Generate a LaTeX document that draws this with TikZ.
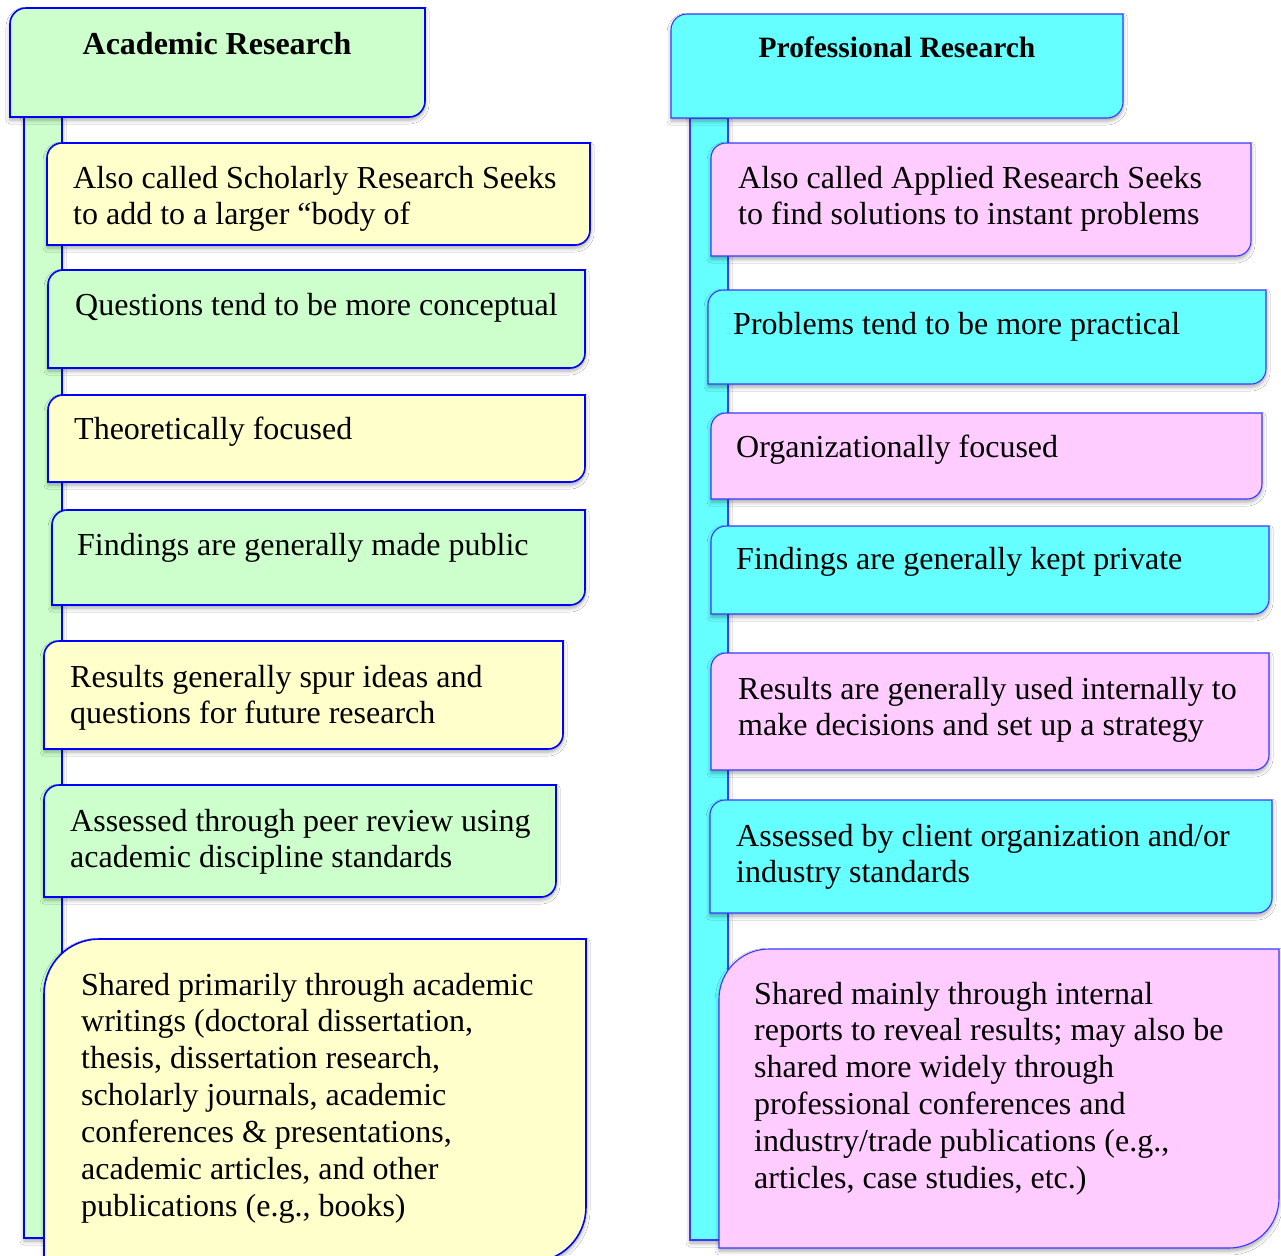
\documentclass[tikz,border=0pt]{standalone}
\usepackage{fontspec}
\setmainfont{Liberation Serif}
\usetikzlibrary{shadows.blur}

\definecolor{mint}{HTML}{CCFFCC}
\definecolor{cream}{HTML}{FFFFCC}
\definecolor{aqua}{HTML}{66FFFF}
\definecolor{rose}{HTML}{FFCCFF}
\definecolor{edgeL}{HTML}{0000FF}
\definecolor{edgeR}{HTML}{3A3AFF}

\newcommand\bodyfont{\fontsize{32}{36.9}\selectfont}
\newcommand\headfontL{\fontsize{32}{36.9}\selectfont\bfseries}
\newcommand\headfontR{\fontsize{29.5}{34}\selectfont\bfseries}

% tab shape: rounded top-left and bottom-right corners only
\newcommand\tabshape[6]{%
  \path[#6] (#1,-#4) -- (#1,-#2-#5)
    arc[start angle=180,end angle=90,radius=#5pt] -- (#3,-#2)
    -- (#3,-#4+#5) arc[start angle=0,end angle=-90,radius=#5pt] -- cycle;}

\tikzset{
  soft/.style={blur shadow={shadow xshift=0pt,shadow yshift=-3pt,
      shadow blur radius=4pt,shadow opacity=35}},
  lcol/.style={soft,draw=edgeL,line width=1.6pt},
  rcol/.style={soft,draw=edgeR,line width=1.1pt},
  txt/.style={anchor=north west,inner sep=0pt,align=left,font=\bodyfont},
  head/.style={anchor=base,inner sep=0pt}
}

\begin{document}
\begin{tikzpicture}[x=1pt,y=1pt]
\useasboundingbox (0,0) rectangle (1281,-1255);
\fill[white] (0,0) rectangle (1281,-1255);
\clip (0,0) rectangle (1281,-1255);

% ---------- Academic column ----------
\path[lcol,fill=mint] (24,-117) rectangle (62,-1238);
\tabshape{10}{8}{425}{117}{16}{lcol,fill=mint}
\node[head,font=\headfontL] (acad) at (217,-55) {Academic Research};

\tabshape{47}{143}{590}{245}{15}{lcol,fill=cream}
\node[txt] (a1) at (73,-162) {\strut Also called Scholarly Research Seeks\\to add to a larger “body of};

\tabshape{48}{270}{585}{368}{15}{lcol,fill=mint}
\node[txt] (a2) at (75,-289) {\strut Questions tend to be more conceptual};

\tabshape{48}{395}{585}{482}{15}{lcol,fill=cream}
\node[txt] (a3) at (74,-413) {\strut Theoretically focused};

\tabshape{52}{510}{585}{605}{15}{lcol,fill=mint}
\node[txt] (a4) at (77,-529) {\strut Findings are generally made public};

\tabshape{44}{641}{563}{749}{15}{lcol,fill=cream}
\node[txt] (a5) at (70,-661) {\strut Results generally spur ideas and\\questions for future research};

\tabshape{44}{785}{556}{897}{15}{lcol,fill=mint}
\node[txt] (a6) at (70,-805) {\strut Assessed through peer review using\\academic discipline standards};

\tabshape{44}{939}{586}{1262}{55}{lcol,fill=cream}
\node[txt] (a7) at (81,-969) {\strut Shared primarily through academic\\writings (doctoral dissertation,\\thesis, dissertation research,\\scholarly journals, academic\\conferences \& presentations,\\academic articles, and other\\publications (e.g., books)};

% ---------- Professional column ----------
\path[rcol,fill=aqua] (690,-118) rectangle (728,-1240);
\tabshape{671}{14}{1123}{118}{16}{rcol,fill=aqua}
\node[head,font=\headfontR] (prof) at (897,-58) {Professional Research};

\tabshape{711}{143}{1251}{256}{15}{rcol,fill=rose}
\node[txt] (p1) at (738,-162) {\strut Also called Applied Research Seeks\\to find solutions to instant problems};

\tabshape{708}{290}{1266}{384}{15}{rcol,fill=aqua}
\node[txt] (p2) at (733,-308) {\strut Problems tend to be more practical};

\tabshape{711}{413}{1262}{499}{15}{rcol,fill=rose}
\node[txt] (p3) at (736,-431) {\strut Organizationally focused};

\tabshape{711}{526}{1269}{614}{15}{rcol,fill=aqua}
\node[txt] (p4) at (736,-543) {\strut Findings are generally kept private};

\tabshape{711}{653}{1269}{770}{15}{rcol,fill=rose}
\node[txt] (p5) at (738,-673) {\strut Results are generally used internally to\\make decisions and set up a strategy};

\tabshape{710}{800}{1272}{913}{15}{rcol,fill=aqua}
\node[txt] (p6) at (736,-820) {\strut Assessed by client organization and/or\\industry standards};

\tabshape{719}{949}{1279}{1248}{50}{rcol,fill=rose}
\node[txt] (p7) at (754,-978) {\strut Shared mainly through internal\\reports to reveal results; may also be\\shared more widely through\\professional conferences and\\industry/trade publications (e.g.,\\articles, case studies, etc.)};
\end{tikzpicture}
\end{document}
